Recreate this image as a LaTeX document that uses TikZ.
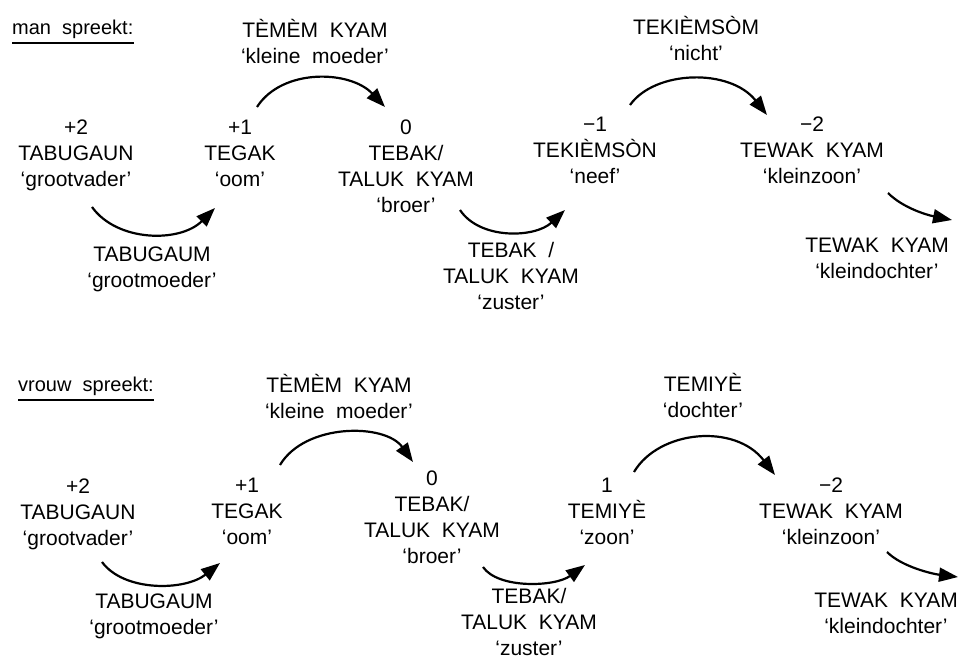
\documentclass[tikz,border=0pt]{standalone}
\usepackage{fontspec}
\setmainfont{Liberation Sans}[WordSpace=2]
\usetikzlibrary{arrows.meta,calc}
\begin{document}
\begin{tikzpicture}[x=1pt,y=-1pt,
  lbl/.style={align=center, inner sep=0pt, anchor=base,
              font=\fontsize{21}{26}\selectfont},
  hdr/.style={inner sep=0pt, anchor=base west,
              font=\fontsize{20}{24}\selectfont},
  conn/.style={line width=2.2pt, -{Triangle[length=19pt,width=14pt]}},
  uline/.style={line width=2pt}]
\useasboundingbox[fill=white] (0,0) rectangle (962,660);

% Each label block is placed by the baseline of its last line.

% ---------- man spreekt ----------
\node[hdr] (hdrA) at (12,35) {man spreekt:};
\draw[uline] ($(hdrA.base west)+(0,8)$) -- ($(hdrA.base east)+(0,8)$);

\node[lbl] (tm1) at (315,64)  {TÈMÈM KYAM\\`kleine moeder'};
\node[lbl] (p2)  at (76,187)  {+2\\TABUGAUN\\`grootvader'};
\node[lbl] (p1)  at (240,187) {+1\\TEGAK\\`oom'};
\node[lbl] (z0)  at (406,213) {0\\TEBAK/\\TALUK KYAM\\`broer'};
\node[lbl] (gm)  at (152,288) {TABUGAUM\\`grootmoeder'};
\node[lbl] (zs)  at (511,310) {TEBAK /\\TALUK KYAM\\`zuster'};
\node[lbl] (ni)  at (696,61)  {TEKIÈMSÒM\\`nicht'};
\node[lbl] (m1)  at (595,184) {−1\\TEKIÈMSÒN\\`neef'};
\node[lbl] (m2)  at (812,184) {−2\\TEWAK KYAM\\`kleinzoon'};
\node[lbl] (kd)  at (877,279) {TEWAK KYAM\\`kleindochter'};

\draw[conn] ($(p1.base)+(17,-80)$) .. controls +(25,-39) and +(-35,-37) .. ($(z0.base)+(-21,-106)$);
\draw[conn] ($(p2.base)+(16,20)$) .. controls +(25,35) and +(-35,35) .. ($(p1.base)+(-25,21)$);
\draw[conn] ($(z0.base)+(54,-3)$) .. controls +(20,30) and +(-30,28) .. ($(m1.base)+(-30,26)$);
\draw[conn] ($(m1.base)+(35,-79)$) .. controls +(25,-35) and +(-37,-47) .. ($(m2.base)+(-45,-69)$);
\draw[conn] ($(m2.base)+(76,9)$) .. controls +(15,15) and +(-25,-5) .. ($(kd.base)+(75,-59)$);

% ---------- vrouw spreekt ----------
\node[hdr] (hdrB) at (18,392) {vrouw spreekt:};
\draw[uline] ($(hdrB.base west)+(0,8)$) -- ($(hdrB.base east)+(0,8)$);

\node[lbl] (tm2) at (339,419) {TÈMÈM KYAM\\`kleine moeder'};
\node[lbl] (q2)  at (78,545)  {+2\\TABUGAUN\\`grootvader'};
\node[lbl] (q1)  at (247,544) {+1\\TEGAK\\`oom'};
\node[lbl] (y0)  at (432,563) {0\\TEBAK/\\TALUK KYAM\\`broer'};
\node[lbl] (gm2) at (154,634) {TABUGAUM\\`grootmoeder'};
\node[lbl] (zs2) at (529,655) {TEBAK/\\TALUK KYAM\\`zuster'};
\node[lbl] (do)  at (703,418) {TEMIYÈ\\`dochter'};
\node[lbl] (s1)  at (607,544) {1\\TEMIYÈ\\`zoon'};
\node[lbl] (n2)  at (831,544) {−2\\TEWAK KYAM\\`kleinzoon'};
\node[lbl] (kd2) at (886,633) {TEWAK KYAM\\`kleindochter'};

\draw[conn] ($(q1.base)+(33,-79)$) .. controls +(25,-42) and +(-28,-39) .. ($(y0.base)+(-19,-101)$);
\draw[conn] ($(q2.base)+(24,17)$) .. controls +(22,30) and +(-35,28) .. ($(q1.base)+(-27,19)$);
\draw[conn] ($(y0.base)+(51,4)$) .. controls +(15,22) and +(-30,22) .. ($(s1.base)+(-22,21)$);
\draw[conn] ($(s1.base)+(27,-72)$) .. controls +(25,-42) and +(-40,-52) .. ($(n2.base)+(-56,-69)$);
\draw[conn] ($(n2.base)+(56,8)$) .. controls +(15,15) and +(-25,-3) .. ($(kd2.base)+(72,-56)$);
\end{tikzpicture}
\end{document}
